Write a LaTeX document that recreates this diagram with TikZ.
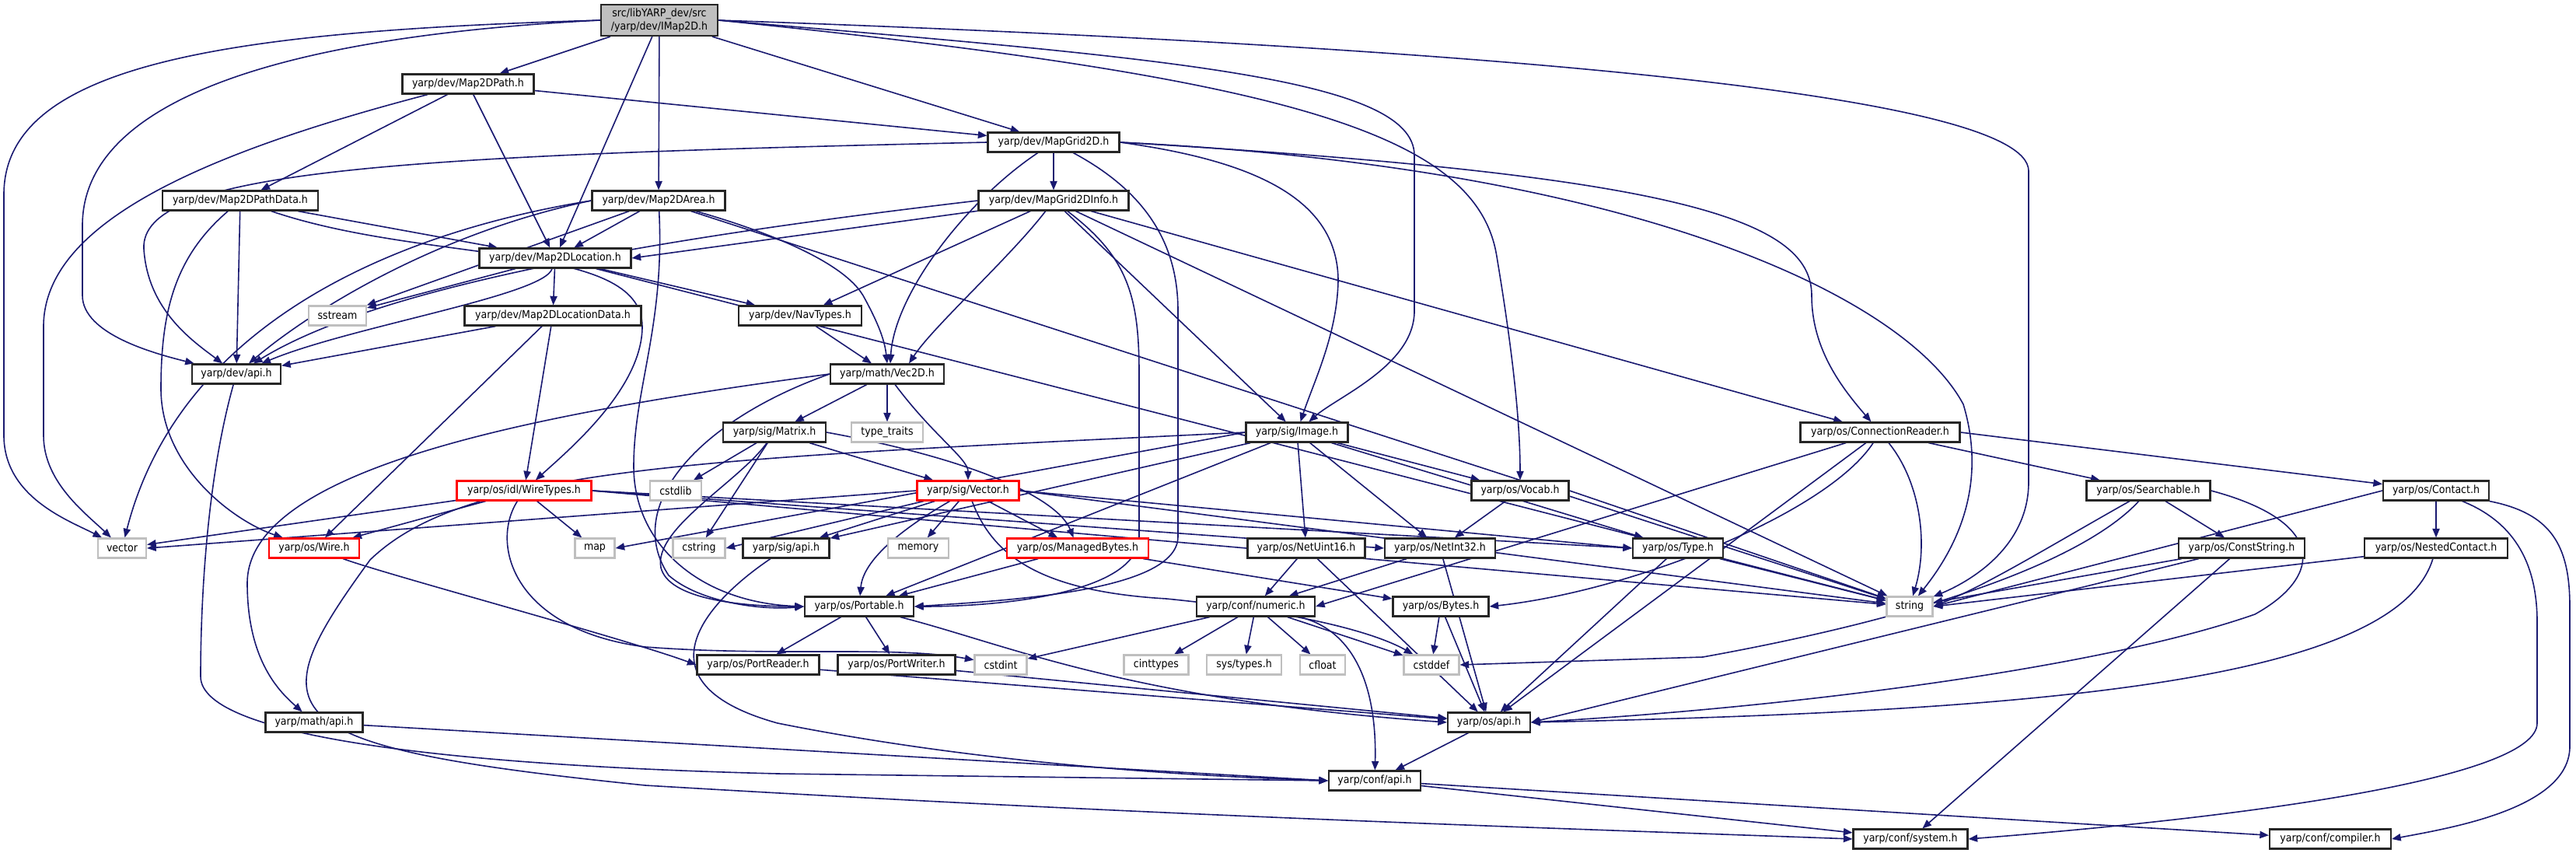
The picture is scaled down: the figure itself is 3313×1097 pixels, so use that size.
\documentclass[tikz,border=0pt]{standalone}
\usepackage{fontspec}
\setmainfont{DejaVu Sans Condensed}
\usetikzlibrary{arrows.meta,calc}
\definecolor{edgec}{HTML}{191970}
\definecolor{rootfill}{HTML}{BFBFBF}
\definecolor{graybd}{HTML}{BFBFBF}
\definecolor{redbd}{HTML}{FF0000}
\pgfdeclarelayer{edgelayer}
\pgfsetlayers{edgelayer,main}
\tikzset{
  nd/.style={draw=black!85, line width=1.05pt, fill=white, minimum height=12.5pt, inner sep=0pt, font=\fontsize{7}{8.4}\selectfont},
  rd/.style={nd, draw=redbd},
  gd/.style={nd, draw=graybd},
  e/.style={draw=edgec, line width=0.8pt, -{Triangle[length=5.8pt,width=4.6pt]}}
}
\begin{document}
\begin{tikzpicture}[x=0.5pt,y=-0.5pt]
\useasboundingbox (0,0) rectangle (3313,1097);
% nodes
\node[nd, fill=rootfill, minimum width=75pt, minimum height=20pt, align=center] (root) at (848,26) {src/libYARP\_dev/src\\/yarp/dev/IMap2D.h};
\node[nd, minimum width=84.5pt] (map2dpath) at (602,108) {yarp/dev/Map2DPath.h};
\node[nd, minimum width=84.5pt] (mapgrid) at (1355,183) {yarp/dev/MapGrid2D.h};
\node[nd, minimum width=100pt] (pathdata) at (309,258) {yarp/dev/Map2DPathData.h};
\node[nd, minimum width=85.5pt] (area) at (847,258) {yarp/dev/Map2DArea.h};
\node[nd, minimum width=96.5pt] (gridinfo) at (1355,258) {yarp/dev/MapGrid2DInfo.h};
\node[nd, minimum width=97.5pt] (location) at (714,332) {yarp/dev/Map2DLocation.h};
\node[gd, minimum width=37pt] (sstream) at (434,406) {sstream};
\node[nd, minimum width=113.5pt] (locdata) at (711,406) {yarp/dev/Map2DLocationData.h};
\node[nd, minimum width=79pt] (navtypes) at (1029,406) {yarp/dev/NavTypes.h};
\node[nd, minimum width=57pt] (devapi) at (304,481) {yarp/dev/api.h};
\node[nd, minimum width=73pt] (vec2d) at (1141,481) {yarp/math/Vec2D.h};
\node[nd, minimum width=66pt] (matrix) at (996,556) {yarp/sig/Matrix.h};
\node[gd, minimum width=46pt] (typetraits) at (1141,556) {type\_traits};
\node[nd, minimum width=65.5pt] (image) at (1668,556) {yarp/sig/Image.h};
\node[nd, minimum width=102.5pt] (connreader) at (2418,556) {yarp/os/ConnectionReader.h};
\node[rd, minimum width=86.5pt] (wiretypes) at (674,631) {yarp/os/idl/WireTypes.h};
\node[gd, minimum width=33pt] (cstdlib) at (869,631) {cstdlib};
\node[rd, minimum width=65.5pt] (vectorh) at (1245,631) {yarp/sig/Vector.h};
\node[nd, minimum width=62.5pt] (vocab) at (1955,631) {yarp/os/Vocab.h};
\node[nd, minimum width=79.5pt] (searchable) at (2763,631) {yarp/os/Searchable.h};
\node[nd, minimum width=68pt] (contact) at (3133,631) {yarp/os/Contact.h};
\node[gd, minimum width=31pt] (vector) at (157,705) {vector};
\node[rd, minimum width=58pt] (wire) at (404,705) {yarp/os/Wire.h};
\node[gd, minimum width=25.5pt] (map) at (765,705) {map};
\node[gd, minimum width=33.5pt] (cstring) at (899,705) {cstring};
\node[nd, minimum width=55.5pt] (sigapi) at (1011,705) {yarp/sig/api.h};
\node[gd, minimum width=39pt] (memory) at (1181,705) {memory};
\node[rd, minimum width=91pt] (managed) at (1386,705) {yarp/os/ManagedBytes.h};
\node[nd, minimum width=75.5pt] (netuint16) at (1680,705) {yarp/os/NetUint16.h};
\node[nd, minimum width=71pt] (netint32) at (1852,705) {yarp/os/NetInt32.h};
\node[nd, minimum width=58pt] (type) at (2158,705) {yarp/os/Type.h};
\node[nd, minimum width=81pt] (conststring) at (2883,705) {yarp/os/ConstString.h};
\node[nd, minimum width=92pt] (nested) at (3133,705) {yarp/os/NestedContact.h};
\node[nd, minimum width=70pt] (portable) at (1105,780) {yarp/os/Portable.h};
\node[nd, minimum width=76pt] (numeric) at (1615,780) {yarp/conf/numeric.h};
\node[nd, minimum width=61.5pt] (bytes) at (1853,780) {yarp/os/Bytes.h};
\node[gd, minimum width=29.5pt] (string) at (2456,780) {string};
\node[nd, minimum width=78.5pt] (portreader) at (975,855) {yarp/os/PortReader.h};
\node[nd, minimum width=75.5pt] (portwriter) at (1153,855) {yarp/os/PortWriter.h};
\node[gd, minimum width=33.5pt] (cstdint) at (1287,855) {cstdint};
\node[gd, minimum width=41.5pt] (cinttypes) at (1487,855) {cinttypes};
\node[gd, minimum width=48pt] (systypes) at (1600,855) {sys/types.h};
\node[gd, minimum width=29pt] (cfloat) at (1701,855) {cfloat};
\node[gd, minimum width=35.5pt] (cstddef) at (1841,855) {cstddef};
\node[nd, minimum width=62.5pt] (mathapi) at (404,929) {yarp/math/api.h};
\node[nd, minimum width=53pt] (osapi) at (1915,929) {yarp/os/api.h};
\node[nd, minimum width=59pt] (confapi) at (1768,1004) {yarp/conf/api.h};
\node[nd, minimum width=73.5pt] (system) at (2457,1079) {yarp/conf/system.h};
\node[nd, minimum width=78pt] (compiler) at (2997,1079) {yarp/conf/compiler.h};

\begin{pgfonlayer}{edgelayer}
% root
\draw[e] (root) -- (map2dpath);
\draw[e] (root) -- (location);
\draw[e] (root) -- (area);
\draw[e] (root) -- (mapgrid);
\draw[e] (root.west) .. controls (300,40) and (5,80) .. (5,250) -- (5,560) .. controls (5,640) and (90,670) .. (vector);
\draw[e] (root.west) .. controls (300,50) and (106,150) .. (106,290) -- (106,380) .. controls (106,430) and (200,455) .. (devapi);
\draw[e] (root.east) .. controls (1500,75) and (1819,100) .. (1819,200) -- (1819,400) .. controls (1819,470) and (1720,510) .. (image);
\draw[e] (root.east) .. controls (1650,100) and (1900,170) .. (1925,330) .. controls (1945,450) and (1955,540) .. (vocab);
\draw[e] (root.east) .. controls (1900,60) and (2609,120) .. (2609,220) -- (2609,620) .. controls (2609,700) and (2540,745) .. (string);
% Map2DPath
\draw[e] (map2dpath) -- (pathdata);
\draw[e] (map2dpath) -- (location);
\draw[e] (map2dpath) -- (mapgrid);
\draw[e] (map2dpath) .. controls (250,200) and (56,290) .. (56,420) -- (56,560) .. controls (56,620) and (110,660) .. (vector);
% MapGrid2D
\draw[e] (mapgrid) -- (gridinfo);
\draw[e] (mapgrid) .. controls (1240,260) and (1150,380) .. ($(vec2d.north)+(4,0)$);
\draw[e] (mapgrid) .. controls (1480,250) and (1515,320) .. (1515,400) -- (1515,690) .. controls (1515,760) and (1300,772) .. (portable.east);
\draw[e] (mapgrid.west) .. controls (500,200) and (180,220) .. (185,320) .. controls (190,400) and (250,440) .. (devapi);
\draw[e] (mapgrid.east) .. controls (1600,205) and (1720,250) .. (1721,360) .. controls (1720,430) and (1690,490) .. (image);
\draw[e] (mapgrid.east) .. controls (2150,225) and (2330,280) .. (2330,380) .. controls (2330,450) and (2370,500) .. (connreader);
\draw[e] (mapgrid.east) .. controls (2100,215) and (2450,380) .. (2525,520) .. controls (2555,620) and (2520,700) .. (string);
% Map2DPathData
\draw[e] (pathdata) -- (location);
\draw[e] (pathdata) -- (devapi);
\draw[e] (pathdata) .. controls (225,330) and (207,400) .. (207,500) .. controls (207,600) and (300,670) .. (wire);
\draw[e] (pathdata) .. controls (550,340) and (826,310) .. (826,420) .. controls (826,500) and (730,580) .. (wiretypes);
% Map2DArea
\draw[e] (area) -- (location);
\draw[e] (area.west) .. controls (500,300) and (230,420) .. (vector);
\draw[e] (area.west) .. controls (560,300) and (400,400) .. (devapi);
\draw[e] (area) -- (sstream);
\draw[e] (area) .. controls (855,420) and (815,500) .. (815,600) .. controls (815,700) and (900,775) .. (portable.west);
\draw[e] (area) .. controls (960,290) and (1080,330) .. (1110,380) .. controls (1132,420) and (1138,440) .. ($(vec2d.north)+(0,0)$);
\draw[e] (area) -- (string);
% MapGrid2DInfo
\draw[e] (gridinfo) -- (location.east);
\draw[e] (gridinfo.west) .. controls (900,300) and (500,360) .. (devapi);
\draw[e] (gridinfo) -- (navtypes);
\draw[e] (gridinfo) .. controls (1300,330) and (1200,420) .. ($(vec2d.north)+(28,0)$);
\draw[e] (gridinfo) -- (image);
\draw[e] (gridinfo) .. controls (1450,330) and (1465,380) .. (1465,480) -- (1465,690) .. controls (1465,760) and (1300,780) .. (portable.east);
\draw[e] (gridinfo) -- (connreader);
\draw[e] (gridinfo) -- (string);
% Map2DLocation
\draw[e] (location) -- (locdata);
\draw[e] (location) -- (sstream);
\draw[e] (location) .. controls (700,380) and (450,420) .. (devapi);
\draw[e] (location) -- (navtypes);
\draw[e] (location) -- (string);
% Map2DLocationData
\draw[e] (locdata) -- (devapi);
\draw[e] (locdata) -- (wire);
\draw[e] (locdata) -- (wiretypes);
% NavTypes, dev/api
\draw[e] (navtypes) -- ($(vec2d.north)+(-20,0)$);
\draw[e] (devapi) .. controls (265,620) and (258,780) .. (258,870) .. controls (258,950) and (600,985) .. (1000,995) -- (confapi.west);
% Vec2D
\draw[e] (vec2d) -- (matrix);
\draw[e] (vec2d) -- (typetraits);
\draw[e] (vec2d) .. controls (1200,560) and (1245,590) .. (vectorh);
\draw[e] (vec2d.west) .. controls (700,530) and (318,600) .. (318,750) .. controls (318,850) and (360,890) .. (mathapi);
\draw[e] (vec2d.west) .. controls (900,540) and (800,650) .. (860,740) .. controls (900,775) and (980,785) .. (portable.west);
% Matrix
\draw[e] (matrix) -- (cstdlib);
\draw[e] (matrix) -- (cstring);
\draw[e] (matrix) -- (vectorh);
\draw[e] (matrix.east) .. controls (1250,590) and (1360,640) .. (managed);
\draw[e] (matrix) .. controls (950,620) and (840,680) .. (850,730) .. controls (860,770) and (950,780) .. (portable.west);
% Image
\draw[e] (image) -- (netuint16);
\draw[e] (image) -- (netint32);
\draw[e] (image) -- (vocab);
\draw[e] (image) -- (type);
\draw[e] (image) -- (portable);
\draw[e] (image) -- (sigapi);
\draw[e] (image.west) -- (map.east);
\draw[e] (image.west) .. controls (900,590) and (600,600) .. (476,720) .. controls (330,920) and (340,960) .. (830,1010) .. controls (1500,1050) and (2000,1065) .. (system.west);
% ConnectionReader
\draw[e] (connreader) -- (searchable);
\draw[e] (connreader.east) -- (contact);
\draw[e] (connreader) .. controls (2470,620) and (2480,700) .. (string);
\draw[e] (connreader) -- (numeric.east);
\draw[e] (connreader) -- (osapi);
\draw[e] (connreader) .. controls (2350,660) and (2100,760) .. (bytes.east);
% WireTypes
\draw[e] (wiretypes) -- (vector);
\draw[e] (wiretypes) -- (wire);
\draw[e] (wiretypes) -- (map);
\draw[e] (wiretypes) .. controls (630,700) and (660,810) .. (830,832) .. controls (1000,845) and (1150,830) .. (cstdint);
\draw[e] (wiretypes.east) -- (netint32.west);
\draw[e] (wiretypes.east) -- (type.west);
\draw[e] (wiretypes.east) -- (string);
% Vector.h
\draw[e] (vectorh.west) -- (vector.east);
\draw[e] (vectorh) -- (cstring.east);
\draw[e] (vectorh) -- (sigapi);
\draw[e] (vectorh) -- (memory);
\draw[e] (vectorh) -- (managed);
\draw[e] (vectorh) .. controls (1160,680) and (1110,720) .. (portable);
\draw[e] (vectorh.east) -- (type.west);
\draw[e] (vectorh.east) -- (string);
\draw[e] (vectorh) .. controls (1275,710) and (1330,760) .. (1500,770) .. controls (1700,790) and (1780,820) .. (cstddef);
% Vocab
\draw[e] (vocab) -- (netint32);
\draw[e] (vocab.east) -- (string);
% Searchable
\draw[e] (searchable) -- (conststring);
\draw[e] (searchable) .. controls (2640,700) and (2560,750) .. (string.east);
\draw[e] (searchable.east) .. controls (2990,670) and (2990,740) .. (2900,790) .. controls (2700,860) and (2300,910) .. (osapi.east);
\draw[e] (searchable) .. controls (2700,700) and (2550,780) .. (2190,845) -- (cstddef.east);
% Contact
\draw[e] (contact) -- (nested);
\draw[e] (contact.west) -- (string.east);
\draw[e] (contact) .. controls (3230,670) and (3263,720) .. (3263,800) -- (3263,930) .. controls (3263,1000) and (2900,1050) .. (system.east);
\draw[e] (contact) .. controls (3280,660) and (3305,700) .. (3305,780) -- (3305,960) .. controls (3305,1040) and (3150,1065) .. (compiler.east);
% Wire, sig/api, ManagedBytes
\draw[e] (wire) .. controls (500,740) and (800,820) .. (portreader.west);
\draw[e] (sigapi) .. controls (900,780) and (820,880) .. (1000,930) .. controls (1300,990) and (1600,1000) .. (confapi.west);
\draw[e] (managed) -- (bytes);
\draw[e] (managed) -- (portable);
% Net, Type
\draw[e] (netuint16) -- (numeric);
\draw[e] (netuint16) -- (osapi);
\draw[e] (netint32) -- (numeric);
\draw[e] (netint32) -- (osapi);
\draw[e] (type) -- (osapi);
\draw[e] (type) -- (string);
% ConstString, NestedContact
\draw[e] (conststring) -- (string);
\draw[e] (conststring) -- (osapi.east);
\draw[e] (conststring) -- (system);
\draw[e] (nested) -- (string.east);
\draw[e] (nested) .. controls (3080,880) and (2600,915) .. (osapi.east);
% Portable
\draw[e] (portable) -- (portreader);
\draw[e] (portable) -- (portwriter);
\draw[e] (portable) .. controls (1300,830) and (1450,900) .. (osapi.west);
% numeric
\draw[e] (numeric) -- (cstdint);
\draw[e] (numeric) -- (cinttypes);
\draw[e] (numeric) -- (systypes);
\draw[e] (numeric) -- (cfloat);
\draw[e] (numeric) -- (cstddef);
\draw[e] (numeric) .. controls (1740,810) and (1771,880) .. (confapi);
% Bytes
\draw[e] (bytes) -- (cstddef);
\draw[e] (bytes) -- (osapi);
% apis
\draw[e] (portreader) -- (osapi);
\draw[e] (portwriter) -- (osapi);
\draw[e] (mathapi) -- (confapi.west);
\draw[e] (osapi) -- (confapi);
\draw[e] (confapi) -- (system);
\draw[e] (confapi) -- (compiler);
\end{pgfonlayer}
\end{tikzpicture}
\end{document}
